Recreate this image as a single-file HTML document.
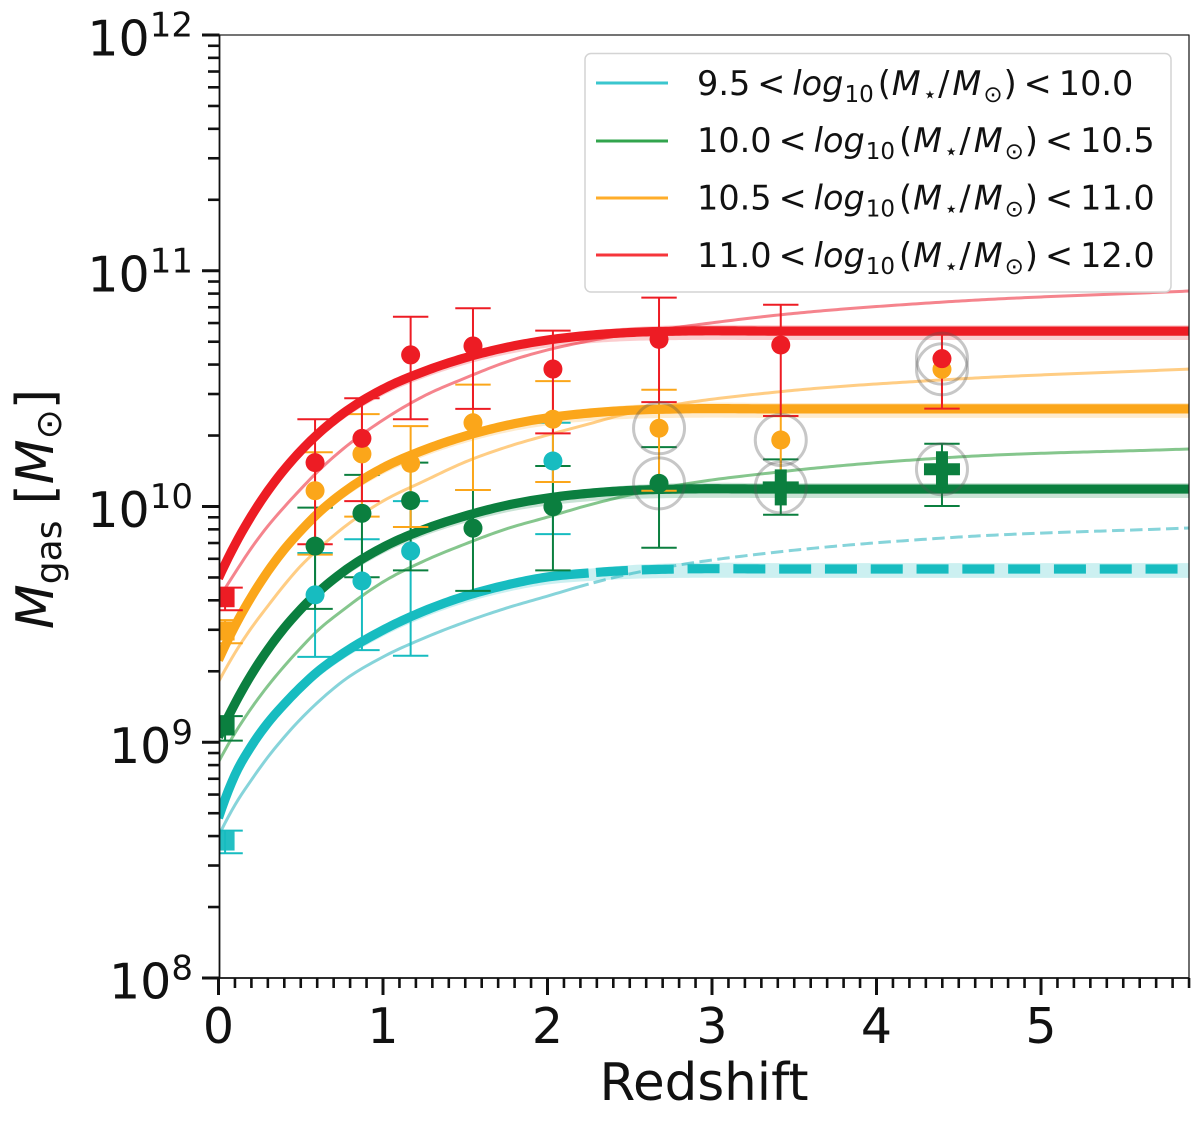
<!DOCTYPE html>
<html lang="en">
<head>
<meta charset="utf-8">
<title>Gas mass versus redshift</title>
<style>
html,body{margin:0;padding:0;background:#fff;}
svg{display:block;}
text{font-family:"DejaVu Sans","Liberation Sans",sans-serif;fill:#111;}
</style>
</head>
<body>
<svg id="chart" xmlns="http://www.w3.org/2000/svg" width="1200" height="1122" viewBox="0 0 1200 1122">
  <defs><clipPath id="plot-clip"><rect x="219" y="35" width="970" height="943"></rect></clipPath></defs>
  <rect x="0" y="0" width="1200" height="1122" fill="#fff"></rect>
  <g id="curves" clip-path="url(#plot-clip)"></g>
  <g id="points" clip-path="url(#plot-clip)"></g>
  <g id="rings" clip-path="url(#plot-clip)"></g>
  <g id="axes"></g>

  <g>
    <rect x="585" y="53.5" width="586" height="238.5" rx="6" fill="#fff" fill-opacity="0.85" stroke="#d4d4d4" stroke-width="1.5"></rect>
    <line x1="596" x2="668" y1="83" y2="83" stroke="#17bcc6" stroke-opacity="0.85" stroke-width="3"></line>
    <line x1="596" x2="668" y1="141" y2="141" stroke="#1c9a3a" stroke-opacity="0.9" stroke-width="3"></line>
    <line x1="596" x2="668" y1="198" y2="198" stroke="#ffa91f" stroke-opacity="0.95" stroke-width="3"></line>
    <line x1="596" x2="668" y1="255" y2="255" stroke="#f52a30" stroke-opacity="0.95" stroke-width="3"></line>
    <text x="697" y="95" font-size="33.5">9.5<tspan dx="7">&lt;</tspan><tspan dx="7" font-style="italic">log</tspan><tspan dx="1" dy="7" font-size="23">10</tspan><tspan dx="4" dy="-7">(</tspan><tspan dx="1" font-style="italic">M</tspan><tspan dx="2" dy="7" font-size="23">⋆</tspan><tspan dx="1" dy="-7">/</tspan><tspan dx="3" font-style="italic">M</tspan><tspan dx="2" dy="7" font-size="23">⊙</tspan><tspan dx="1" dy="-7">)</tspan><tspan dx="7">&lt;</tspan><tspan dx="7">10.0</tspan></text>
    <text x="697" y="152" font-size="33.5">10.0<tspan dx="7">&lt;</tspan><tspan dx="7" font-style="italic">log</tspan><tspan dx="1" dy="7" font-size="23">10</tspan><tspan dx="4" dy="-7">(</tspan><tspan dx="1" font-style="italic">M</tspan><tspan dx="2" dy="7" font-size="23">⋆</tspan><tspan dx="1" dy="-7">/</tspan><tspan dx="3" font-style="italic">M</tspan><tspan dx="2" dy="7" font-size="23">⊙</tspan><tspan dx="1" dy="-7">)</tspan><tspan dx="7">&lt;</tspan><tspan dx="7">10.5</tspan></text>
    <text x="697" y="209.5" font-size="33.5">10.5<tspan dx="7">&lt;</tspan><tspan dx="7" font-style="italic">log</tspan><tspan dx="1" dy="7" font-size="23">10</tspan><tspan dx="4" dy="-7">(</tspan><tspan dx="1" font-style="italic">M</tspan><tspan dx="2" dy="7" font-size="23">⋆</tspan><tspan dx="1" dy="-7">/</tspan><tspan dx="3" font-style="italic">M</tspan><tspan dx="2" dy="7" font-size="23">⊙</tspan><tspan dx="1" dy="-7">)</tspan><tspan dx="7">&lt;</tspan><tspan dx="7">11.0</tspan></text>
    <text x="697" y="267" font-size="33.5">11.0<tspan dx="7">&lt;</tspan><tspan dx="7" font-style="italic">log</tspan><tspan dx="1" dy="7" font-size="23">10</tspan><tspan dx="4" dy="-7">(</tspan><tspan dx="1" font-style="italic">M</tspan><tspan dx="2" dy="7" font-size="23">⋆</tspan><tspan dx="1" dy="-7">/</tspan><tspan dx="3" font-style="italic">M</tspan><tspan dx="2" dy="7" font-size="23">⊙</tspan><tspan dx="1" dy="-7">)</tspan><tspan dx="7">&lt;</tspan><tspan dx="7">12.0</tspan></text>
  </g>

  <text x="704" y="1100" font-size="51.5" text-anchor="middle">Redshift</text>
  <text transform="translate(53,509) rotate(-90)" font-size="52" text-anchor="middle"><tspan font-style="italic">M</tspan><tspan dy="8" font-size="36">gas</tspan><tspan dy="-8" dx="16">[</tspan><tspan font-style="italic">M</tspan><tspan dy="8" font-size="36">⊙</tspan><tspan dy="-8">]</tspan></text>
</svg>

<script>
/* ---------- values ---------- */
const yTickExponents = [8, 9, 10, 11, 12];
const yTickLabels = ["8", "9", "10", "11", "12"];
const yMinorMultipliers = [2, 3, 4, 5, 6, 7, 8, 9];
const xTickValues = [0, 1, 2, 3, 4, 5];
const xTickLabels = ["0", "1", "2", "3", "4", "5"];
const xMinorStep = 0.1;
const xDomain = [0, 5.9];
const yDomainLog = [8, 12];

/* redshift samples for the model curves */
const curveRedshifts = [0, 0.1, 0.2, 0.3, 0.4, 0.5, 0.6, 0.75, 1, 1.25, 1.5, 1.75, 2, 2.25, 2.5, 2.8, 3.4, 4.4, 5.9];

/* thick curves: log10 gas mass */
const thickLowMass  = [8.679, 8.861, 8.984, 9.082, 9.162, 9.234, 9.298, 9.374, 9.476, 9.557, 9.620, 9.667, 9.701, 9.718, 9.729, 9.735, 9.735, 9.735, 9.735];
const thickMidMass  = [9.022, 9.164, 9.287, 9.393, 9.485, 9.564, 9.633, 9.719, 9.827, 9.903, 9.960, 10.005, 10.036, 10.056, 10.068, 10.074, 10.074, 10.074, 10.074];
const thickHighMass = [9.349, 9.493, 9.617, 9.725, 9.818, 9.897, 9.968, 10.055, 10.164, 10.240, 10.299, 10.344, 10.376, 10.396, 10.408, 10.414, 10.414, 10.414, 10.414];
const thickTopMass  = [9.696, 9.838, 9.960, 10.066, 10.157, 10.236, 10.305, 10.391, 10.498, 10.573, 10.631, 10.675, 10.706, 10.726, 10.738, 10.744, 10.744, 10.744, 10.744];

/* thin curves: log10 gas mass */
const thinLowMass  = [8.602, 8.734, 8.840, 8.937, 9.022, 9.099, 9.167, 9.256, 9.362, 9.442, 9.510, 9.569, 9.620, 9.671, 9.714, 9.752, 9.807, 9.866, 9.909];
const thinMidMass  = [8.916, 9.039, 9.145, 9.239, 9.323, 9.400, 9.472, 9.557, 9.680, 9.769, 9.841, 9.905, 9.955, 10.006, 10.049, 10.091, 10.146, 10.206, 10.244];
const thinHighMass = [9.256, 9.379, 9.485, 9.578, 9.667, 9.748, 9.815, 9.905, 10.023, 10.108, 10.189, 10.252, 10.303, 10.350, 10.397, 10.435, 10.486, 10.537, 10.583];
const thinTopMass  = [9.608, 9.718, 9.824, 9.917, 9.998, 10.074, 10.146, 10.240, 10.367, 10.469, 10.545, 10.613, 10.664, 10.702, 10.732, 10.761, 10.812, 10.867, 10.914];

/* uncertainty band around thick curves, dex */
const bandBelow = [0.023, 0.023, 0.024, 0.024, 0.025, 0.025, 0.026, 0.026, 0.027, 0.028, 0.029, 0.030, 0.032, 0.034, 0.036, 0.038, 0.038, 0.038, 0.038];
const bandAbove = [0.010, 0.010, 0.010, 0.010, 0.010, 0.010, 0.010, 0.010, 0.010, 0.010, 0.010, 0.012, 0.014, 0.018, 0.022, 0.025, 0.025, 0.025, 0.025];

/* survey points: redshift, log10 mass, upper and lower error ends */
const lowMassZ    = [0.587, 0.872, 1.168, 2.033];
const lowMassVal  = [9.625, 9.684, 9.811, 10.193];
const lowMassHigh = [9.803, 9.861, 10.023, 10.355];
const lowMassLow  = [9.362, 9.391, 9.367, 9.883];

const midMassZ    = [0.587, 0.872, 1.168, 1.547, 2.033, 2.678, 3.418, 4.398];
const midMassVal  = [9.832, 9.971, 10.025, 9.908, 9.999, 10.098, 10.081, 10.158];
const midMassHigh = [9.995, 10.134, 10.186, 10.070, 10.172, 10.252, 10.200, 10.266];
const midMassLow  = [9.566, 9.700, 9.729, 9.642, 9.729, 9.825, 9.965, 10.002];
const midMassCross = [false, false, false, false, false, false, true, true];

const highMassZ    = [0.587, 0.872, 1.168, 1.547, 2.033, 2.678, 3.418, 4.398];
const highMassVal  = [10.067, 10.223, 10.183, 10.355, 10.370, 10.332, 10.282, 10.582];
const highMassHigh = [10.230, 10.392, 10.341, 10.517, 10.532, 10.495, 10.384, 10.740];
const highMassLow  = [9.796, 9.957, 9.913, 10.070, 10.104, 10.067, 10.083, 10.402];

const topMassZ    = [0.587, 0.872, 1.168, 1.547, 2.033, 2.678, 3.418, 4.398];
const topMassVal  = [10.186, 10.289, 10.643, 10.681, 10.583, 10.709, 10.685, 10.627];
const topMassHigh = [10.370, 10.459, 10.805, 10.841, 10.746, 10.886, 10.856, 10.744];
const topMassLow  = [9.840, 10.023, 10.370, 10.414, 10.310, 10.443, 10.384, 10.415];

/* local-universe square markers */
const localZ    = [0.04, 0.04, 0.04, 0.04];
const localVal  = [8.581, 9.069, 9.472, 9.613];
const localHigh = [8.625, 9.111, 9.518, 9.656];
const localLow  = [8.529, 9.007, 9.420, 9.560];
const localColorKeys = ["low", "mid", "high", "top"];

/* ringed points: redshift and log10 mass */
const ringZ   = [2.678, 2.678, 3.418, 3.418, 4.398, 4.398, 4.398];
const ringVal = [10.332, 10.098, 10.282, 10.081, 10.582, 10.627, 10.158];

/* ---------- scales ---------- */
const plotLeft = 218.5, unitX = 164.5;
const plotBottom = 978, decadeY = 235.75;
function xScale(z) { return plotLeft + z * unitX; }
function yScale(logM) { return plotBottom - (logM - yDomainLog[0]) * decadeY; }

const NS = "http://www.w3.org/2000/svg";
function make(tag, parent, attrs) {
  const el = document.createElementNS(NS, tag);
  for (const k in attrs) el.setAttribute(k, attrs[k]);
  parent.appendChild(el);
  return el;
}

/* smooth Hermite spline through the readings */
function slopes(xs, ys) {
  const n = xs.length, m = [];
  for (let i = 1; i < n - 1; i++) {
    const h0 = xs[i] - xs[i - 1], h1 = xs[i + 1] - xs[i];
    const d0 = (ys[i] - ys[i - 1]) / h0, d1 = (ys[i + 1] - ys[i]) / h1;
    m[i] = (d0 * h1 + d1 * h0) / (h0 + h1);
  }
  const h0 = xs[1] - xs[0], h1 = xs[2] - xs[1];
  m[0] = (ys[1] - ys[0]) / h0 + ((ys[1] - ys[0]) / h0 - (ys[2] - ys[1]) / h1) * h0 / (h0 + h1);
  m[n - 1] = (ys[n - 1] - ys[n - 2]) / (xs[n - 1] - xs[n - 2]);
  return m;
}
function evaluator(xs, ys) {
  const m = slopes(xs, ys);
  return function (x) {
    let i = 0;
    while (i < xs.length - 2 && x > xs[i + 1]) i++;
    const h = xs[i + 1] - xs[i], t = (x - xs[i]) / h, t2 = t * t, t3 = t2 * t;
    return (2 * t3 - 3 * t2 + 1) * ys[i] + (t3 - 2 * t2 + t) * h * m[i] + (-2 * t3 + 3 * t2) * ys[i + 1] + (t3 - t2) * h * m[i + 1];
  };
}
function samplePoints(values, zFrom, zTo) {
  const f = evaluator(curveRedshifts, values), pts = [];
  const steps = Math.max(2, Math.round((zTo - zFrom) / 0.02));
  for (let i = 0; i <= steps; i++) {
    const z = zFrom + (zTo - zFrom) * i / steps;
    pts.push(xScale(z).toFixed(2) + "," + yScale(f(z)).toFixed(2));
  }
  return pts;
}

const curvesG = document.getElementById("curves");
const pointsG = document.getElementById("points");
const ringsG = document.getElementById("rings");
const axesG = document.getElementById("axes");

const colors = {
  low:  { main: "#17bcc0", thin: "#2fb5c0", name: "low-mass" },
  mid:  { main: "#0b7f3f", thin: "#2d9c3a", name: "mid-mass" },
  high: { main: "#fba61a", thin: "#ffa92b", name: "high-mass" },
  top:  { main: "#ed1c24", thin: "#ee2b3a", name: "top-mass" }
};

function drawThin(key, values, dashedFrom) {
  const c = colors[key];
  const lastZ = xDomain[1];
  const solidEnd = dashedFrom === null ? lastZ : dashedFrom;
  const solid = make("polyline", curvesG, { points: samplePoints(values, 0, solidEnd).join(" "), fill: "none", stroke: c.thin, "stroke-width": 3, "stroke-opacity": 0.58 });
  
  
  if (dashedFrom !== null) {
    const dash = make("polyline", curvesG, { points: samplePoints(values, dashedFrom + 0.03, lastZ).join(" "), fill: "none", stroke: c.thin, "stroke-width": 3, "stroke-opacity": 0.58, "stroke-dasharray": "12.5 5.5" });
    
    
  }
}
function drawBand(key, values) {
  const c = colors[key];
  const upper = values.map(function (v, i) { return v + bandAbove[i]; });
  const lower = values.map(function (v, i) { return v - bandBelow[i]; });
  const pts = samplePoints(upper, 0, xDomain[1]).concat(samplePoints(lower, 0, xDomain[1]).reverse());
  const band = make("polygon", curvesG, { points: pts.join(" "), fill: c.main, "fill-opacity": 0.22 });
  
  
}
function drawThick(key, values, dashedFrom) {
  const c = colors[key];
  const lastZ = xDomain[1];
  const solidEnd = dashedFrom === null ? lastZ : dashedFrom;
  const solid = make("polyline", curvesG, { points: samplePoints(values, 0, solidEnd).join(" "), fill: "none", stroke: c.main, "stroke-width": 9.2 });
  
  
  if (dashedFrom !== null) {
    const dash = make("polyline", curvesG, { points: samplePoints(values, dashedFrom + 0.045, lastZ).join(" "), fill: "none", stroke: c.main, "stroke-width": 9.2, "stroke-dasharray": "32 13.8" });
    
    
  }
}
function drawErrors(key, zs, highs, lows) {
  const c = colors[key];
  zs.forEach(function (z, i) {
    const x = xScale(z), yHi = yScale(highs[i]), yLo = yScale(lows[i]);
    const stem = make("line", curvesG, { x1: x, x2: x, y1: yHi, y2: yLo, stroke: c.main, "stroke-width": 2 });
    
    
    [yHi, yLo].forEach(function (y) {
      const cap = make("line", curvesG, { x1: x - 17.7, x2: x + 17.7, y1: y, y2: y, stroke: c.main, "stroke-width": 2 });
      
      
    });
  });
}

drawThin("low", thinLowMass, 2.25);
drawThin("mid", thinMidMass, null);
drawThin("high", thinHighMass, null);
drawThin("top", thinTopMass, null);
drawBand("low", thickLowMass);
drawBand("mid", thickMidMass);
drawBand("high", thickHighMass);
drawBand("top", thickTopMass);

/* each mass bin paints its curve then its error bars, so later bins cover earlier ones */
drawThick("low", thickLowMass, 2.25);
drawErrors("low", lowMassZ, lowMassHigh, lowMassLow);
drawErrors("low", [localZ[0]], [localHigh[0]], [localLow[0]]);
drawThick("mid", thickMidMass, null);
drawErrors("mid", midMassZ, midMassHigh, midMassLow);
drawErrors("mid", [localZ[1]], [localHigh[1]], [localLow[1]]);
drawThick("high", thickHighMass, null);
drawErrors("high", highMassZ, highMassHigh, highMassLow);
drawErrors("high", [localZ[2]], [localHigh[2]], [localLow[2]]);
drawThick("top", thickTopMass, null);
drawErrors("top", topMassZ, topMassHigh, topMassLow);
drawErrors("top", [localZ[3]], [localHigh[3]], [localLow[3]]);

/* markers */
function drawDots(key, zs, vals, crosses) {
  const c = colors[key];
  zs.forEach(function (z, i) {
    const x = xScale(z), y = yScale(vals[i]);
    if (crosses && crosses[i]) {
      const h = make("rect", pointsG, { x: x - 18, y: y - 6, width: 36, height: 12, fill: c.main });
      
      
      const v = make("rect", pointsG, { x: x - 6, y: y - 18, width: 12, height: 36, fill: c.main });
      
      
    } else {
      const dot = make("circle", pointsG, { cx: x, cy: y, r: 9.5, fill: c.main });
      
      
    }
  });
}
drawDots("low", lowMassZ, lowMassVal, null);
drawDots("mid", midMassZ, midMassVal, midMassCross);
drawDots("high", highMassZ, highMassVal, null);
drawDots("top", topMassZ, topMassVal, null);
localZ.forEach(function (z, i) {
  const c = colors[localColorKeys[i]];
  const sq = make("rect", pointsG, { x: xScale(z) - 9.5, y: yScale(localVal[i]) - 9.5, width: 19, height: 19, fill: c.main, "fill-opacity": localColorKeys[i] === "low" ? 0.95 : 1 });
  
  
});

/* rings */
ringZ.forEach(function (z, i) {
  const ring = make("circle", ringsG, { cx: xScale(z), cy: yScale(ringVal[i]), r: 25.5, fill: "none", stroke: "#555", "stroke-opacity": 0.33, "stroke-width": 3 });
  
  
});

/* axes */
const spineTop = make("line", axesG, { x1: 219, x2: 1189.5, y1: 35, y2: 35, stroke: "#222", "stroke-width": 1.3 });


const spineRight = make("line", axesG, { x1: 1189, x2: 1189, y1: 35, y2: 978, stroke: "#222", "stroke-width": 1.3 });


const spineLeft = make("line", axesG, { x1: 219.5, x2: 219.5, y1: 35, y2: 978, stroke: "#111", "stroke-width": 1.8 });


const spineBottom = make("line", axesG, { x1: 219, x2: 1189.5, y1: 978, y2: 978, stroke: "#111", "stroke-width": 1.8 });



yTickExponents.forEach(function (e, i) {
  const y = yScale(e);
  const tick = make("line", axesG, { x1: 202, x2: 219.5, y1: y, y2: y, stroke: "#111", "stroke-width": 3 });
  
  
  const label = make("text", axesG, { x: 193, y: y + 20.5, "text-anchor": "end", "font-size": 49 });
  
  
  const base = make("tspan", label, {});
  base.textContent = "10";
  const sup = make("tspan", label, { dy: -19, "font-size": 34 });
  sup.textContent = yTickLabels[i];
  if (i < yTickExponents.length - 1) {
    yMinorMultipliers.forEach(function (m) {
      const yMinor = yScale(e + Math.log10(m));
      const minor = make("line", axesG, { x1: 208, x2: 219.5, y1: yMinor, y2: yMinor, stroke: "#111", "stroke-width": 2.6 });
      
      
    });
  }
});

xTickValues.forEach(function (v, i) {
  const x = xScale(v);
  const tick = make("line", axesG, { x1: x, x2: x, y1: 978, y2: 995, stroke: "#111", "stroke-width": 3 });
  
  
  const label = make("text", axesG, { x: x, y: 1043, "text-anchor": "middle", "font-size": 49 });
  
  
  label.textContent = xTickLabels[i];
});
const minorCount = Math.round(xDomain[1] / xMinorStep);
for (let k = 1; k <= minorCount; k++) {
  if (k % 10 === 0) continue;
  const xm = xScale(k * xMinorStep);
  const minorX = make("line", axesG, { x1: xm, x2: xm, y1: 978, y2: 988, stroke: "#111", "stroke-width": 2.6 });
  
  
}
</script>
</body>
</html>
